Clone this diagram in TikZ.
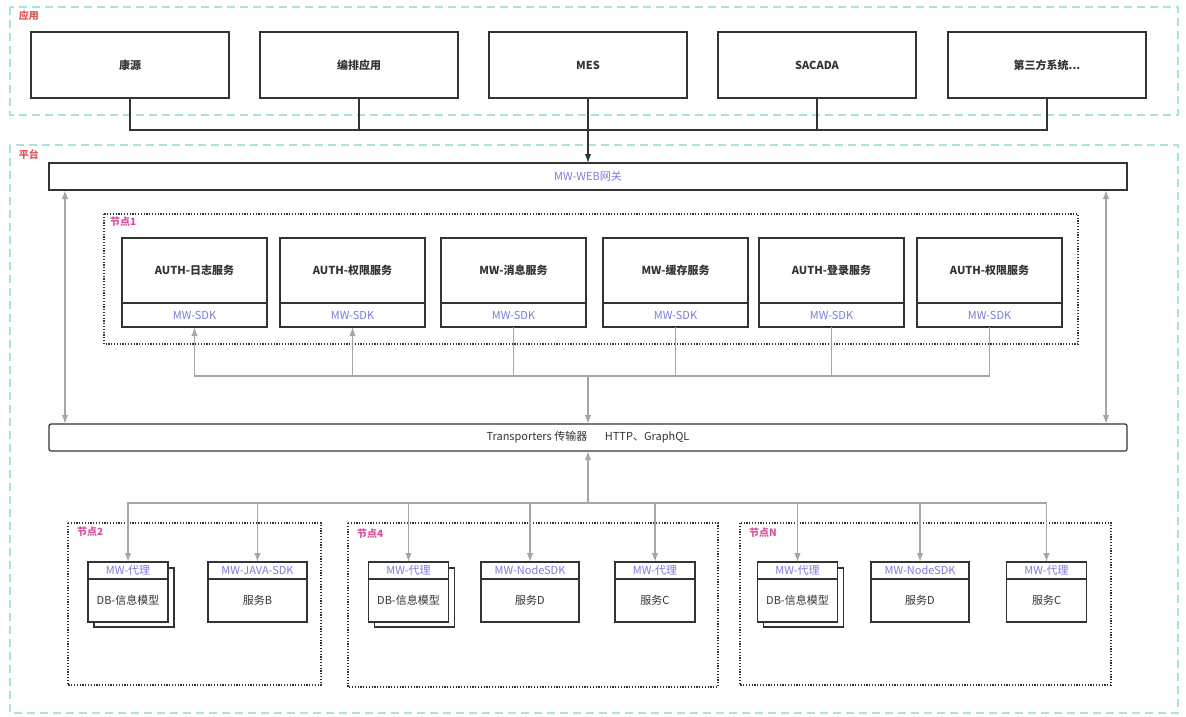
\documentclass[tikz,border=0pt]{standalone}
\usepackage{fontspec}
\setmainfont{Noto Sans CJK SC}
\usepackage{tikz}
\usetikzlibrary{arrows, arrows.meta, calc, positioning}

\definecolor{dk}{HTML}{333333}
\definecolor{gy}{HTML}{A6A6A6}
\definecolor{zonecyan}{HTML}{A9E3DD}
\definecolor{zonered}{HTML}{E05555}
\definecolor{nodepink}{HTML}{D94C9E}
\definecolor{sdkblue}{HTML}{7B7BE0}

\tikzset{
  txt/.style={font=\fontsize{11}{13}\selectfont},
  tip/.style={-{Latex[length=9pt, width=6.5pt]}},
  tips/.style={{Latex[length=9pt, width=6.5pt]}-{Latex[length=9pt, width=6.5pt]}},
  zone/.style={draw=zonecyan, line width=1.2pt, dash pattern=on 8pt off 5pt},
  zonelbl/.style={text=zonered, font=\fontsize{10}{12}\selectfont\bfseries},
  nodezone/.style={draw=dk, line width=1.2pt, dash pattern=on 1.2pt off 1.6pt},
  nodelbl/.style={text=nodepink, font=\fontsize{10}{12}\selectfont\bfseries},
  dkline/.style={draw=dk, line width=1.2pt},
  gyline/.style={draw=gy, line width=1.4pt},
  appbox/.style={draw=dk, line width=1.2pt, minimum width=198pt, minimum height=66pt, text=dk,
    font=\fontsize{11}{13}\selectfont\bfseries},
  bar/.style={draw=dk, line width=1.2pt, minimum width=1078pt, minimum height=27pt, fill=white, txt},
  svcbox/.style={draw=dk, line width=1.2pt, minimum width=145pt, minimum height=65pt, text=dk,
    font=\fontsize{11}{13}\selectfont\bfseries},
  sdkbox/.style={draw=dk, line width=1.2pt, minimum width=145pt, minimum height=24pt, text=sdkblue, txt},
  hdrbox/.style={draw=dk, line width=1.2pt, minimum width=80pt, minimum height=17pt, fill=white, text=sdkblue, txt},
  bodybox/.style={draw=dk, line width=1.2pt, minimum width=80pt, minimum height=43pt, fill=white, text=dk, txt},
}

\begin{document}
\begin{tikzpicture}[x=1pt, y=-1pt, every node/.append style={inner sep=0pt, outer sep=0pt}]
    \useasboundingbox (0,0) rectangle (1186,717);
    \draw[zone] (10,7) rectangle (1178,115);
    \draw[zone] (10,145) rectangle (1178,713);
    \node[zonelbl, anchor=west] (lapp) at (19,16) {应用};
    \node[zonelbl, anchor=west] (lplat) at (19,155) {平台};

    \foreach \x/\n/\t in {130/1/康源, 359/2/编排应用, 588/3/MES, 817/4/SACADA, 1047/5/{第三方系统...}}
        \node[appbox] (a\n) at (\x,65) {\t};

    \node[bar, text=sdkblue] (gw) at (588,176.5) {MW-WEB网关};
    \node[bar, text=dk, rounded corners=2pt] (tr) at (588,437.5) {Transporters 传输器\hspace{1.6em}HTTP、GraphQL};

    \coordinate (top) at (588,130);
    \foreach \n in {1,2,4,5}
        \draw[dkline] (a\n.south) |- (top);
    \draw[dkline, tip] (a3.south) -- (gw.north);

    \draw[nodezone] (104,214) rectangle (1078,344);
    \node[nodelbl, anchor=west] (l1) at (110,222) {节点1};
    \foreach \x/\n/\t in {194.5/1/AUTH-日志服务, 352.5/2/AUTH-权限服务, 513.5/3/MW-消息服务,
                          675.5/4/MW-缓存服务, 831.5/5/AUTH-登录服务, 989.5/6/AUTH-权限服务} {
        \node[svcbox] (s\n) at (\x,270.5) {\t};
        \node[sdkbox, below=0pt of s\n] (k\n) {MW-SDK};
    }

    \coordinate (bus1) at (588,376);
    \draw[gyline, tip] (bus1) -| (k1.south);
    \draw[gyline, tip] (bus1) -| (k2.south);
    \foreach \n in {3,...,6}
        \draw[gyline] (k\n.south) |- (bus1);
    \draw[gyline, tip] (bus1) -- (tr.north);
    \draw[gyline, tips] ($(gw.south west)+(16,0)$) -- ($(tr.north west)+(16,0)$);
    \draw[gyline, tips] ($(gw.south east)+(-21,0)$) -- ($(tr.north east)+(-21,0)$);

    \draw[nodezone] (68,523) rectangle (321,685);
    \node[nodelbl, anchor=west] (l2) at (77,532) {节点2};
    \draw[nodezone] (348,523) rectangle (718,687);
    \node[nodelbl, anchor=west] (l4) at (357,534) {节点4};
    \draw[nodezone] (740,523) rectangle (1111,685);
    \node[nodelbl, anchor=west] (lN) at (749,533) {节点N};

    \foreach \x/\n in {128/2, 408.5/4, 797.5/N} {
        \draw[dkline, fill=white] (\x-34,568) rectangle (\x+46,627);
        \node[hdrbox] (p\n) at (\x,570.5) {MW-代理};
        \node[bodybox, below=0pt of p\n] (b\n) {DB-信息模型};
    }
    \node[hdrbox, minimum width=99pt] (j2) at (257.5,570.5) {MW-JAVA-SDK};
    \node[bodybox, minimum width=99pt, below=0pt of j2] (sb2) {服务B};
    \node[hdrbox, minimum width=98pt] (d4) at (530,570.5) {MW-NodeSDK};
    \node[bodybox, minimum width=98pt, below=0pt of d4] (sd4) {服务D};
    \node[hdrbox] (c4) at (655,570.5) {MW-代理};
    \node[bodybox, below=0pt of c4] (sc4) {服务C};
    \node[hdrbox, minimum width=98pt] (dN) at (920,570.5) {MW-NodeSDK};
    \node[bodybox, minimum width=98pt, below=0pt of dN] (sdN) {服务D};
    \node[hdrbox] (cN) at (1046.5,570.5) {MW-代理};
    \node[bodybox, below=0pt of cN] (scN) {服务C};

    \coordinate (bus2) at (588,503);
    \draw[gyline, tip] (bus2) -- (tr.south);
    \foreach \n in {p2,j2,p4,d4,c4,pN,dN,cN}
        \draw[gyline, tip] (bus2) -| (\n.north);
\end{tikzpicture}
\end{document}
